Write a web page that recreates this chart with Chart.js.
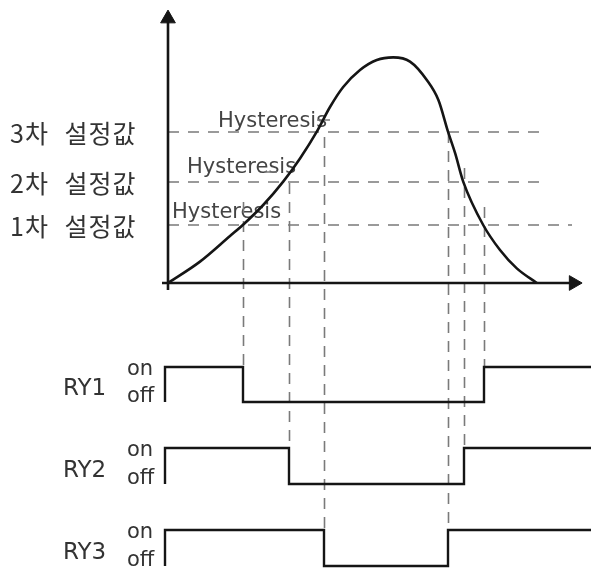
<!DOCTYPE html>
<html>
<head>
<meta charset="utf-8">
<script src="https://cdn.jsdelivr.net/npm/chart.js@4.4.1/dist/chart.umd.min.js"></script>
<style>
  html, body { margin: 0; padding: 0; background: #fff; }
  #wrap { width: 591px; height: 573px; }
</style>
</head>
<body>
<div id="wrap"><canvas id="myChart" width="591" height="573"></canvas></div>
<script>
// 측정값 곡선 (시간, 값)
const curveT = [0, 8, 15.5, 18.7, 23.8, 28.8, 33, 37.2, 40.5, 43.8, 48, 52.2, 56.3, 60.5, 64.7, 67.6, 70, 71.8, 73.8, 78.8, 83, 87.2, 92.2];
const curveV = [0, 10.7, 23.5, 29, 39, 50.7, 62.3, 75.7, 88, 98, 106.5, 111.5, 112.8, 110.7, 101.5, 91.5, 75.7, 64.8, 50.7, 29, 16.5, 7.3, 0];

// 설정값
const setpointLabels = ['1차 설정값', '2차 설정값', '3차 설정값'];
const setpoints = [29, 50.5, 75.5];
const setpointEnds = [101, 94.3, 94.3];
const hystLabels = ['Hysteresis', 'Hysteresis', 'Hysteresis'];

// 릴레이 (off: 상승시, on: 하강시)
const relayNames = ['RY1', 'RY2', 'RY3'];
const relayOffT = [18.75, 30.25, 39];
const relayOnT = [79, 74, 70];
const guideTopRise = [40.5, 50, 73];
const guideTopFall = [38, 57.5, 75.5];
const relayStart = -0.75;
const relayEnd = 106;

// 화면 배치 (px)
const W = 591, H = 573;
const originX = 168, originY = 283, pxPerT = 4, pxPerV = 2;
const relayOnPx = [367, 448, 530];
const relayOffPx = [402, 484, 566];

const black = '#151515';
const dashGray = '#7a7a7a';

function relayScale(i) {
    const unit = relayOffPx[i] - relayOnPx[i];
    return {
        type: 'linear', axis: 'y', display: false,
        min: -(H - relayOffPx[i]) / unit,
        max: 1 + relayOnPx[i] / unit
    };
}

const datasets = [];

// 곡선
datasets.push({
    data: curveT.map((t, i) => ({x: t, y: curveV[i]})),
    borderColor: black, borderWidth: 2.6,
    pointRadius: 0, cubicInterpolationMode: 'monotone',
    yAxisID: 'y', clip: false
});

// 릴레이 파형
relayNames.forEach((name, i) => {
    datasets.push({
        data: [
            {x: relayStart, y: 0}, {x: relayStart, y: 1},
            {x: relayOffT[i], y: 0}, {x: relayOnT[i], y: 1},
            {x: relayEnd, y: 1}
        ],
        stepped: 'before',
        borderColor: black, borderWidth: 2.4,
        pointRadius: 0, yAxisID: 'yRelay' + i, clip: false
    });
});

// 축 (화살표)
datasets.push({
    data: [{x: 0, y: -3.5}, {x: 0, y: 132.2}],
    borderColor: black, borderWidth: 2.6,
    pointStyle: 'triangle', pointRadius: [0, 8.5], pointRotation: [0, 0],
    pointBackgroundColor: black, pointBorderColor: black, pointBorderWidth: 1,
    yAxisID: 'y', clip: false
});
datasets.push({
    data: [{x: -1.5, y: 0}, {x: 101.4, y: 0}],
    borderColor: black, borderWidth: 2.6,
    pointStyle: 'triangle', pointRadius: [0, 8.5], pointRotation: [0, 90],
    pointBackgroundColor: black, pointBorderColor: black, pointBorderWidth: 1,
    yAxisID: 'y', clip: false
});

// 설정값 점선
setpoints.forEach((v, i) => {
    datasets.push({
        data: [{x: 0, y: v}, {x: setpointEnds[i], y: v}],
        borderColor: dashGray, borderWidth: 1.6, borderDash: [11, 9],
        pointRadius: 0, yAxisID: 'y', clip: false
    });
});

// 히스테리시스 표시
datasets.push({
    data: [{x: 24.25, y: 55.5}, {x: 27.25, y: 55.5}, {x: null, y: null},
           {x: 37.25, y: 81.5}, {x: 40.5, y: 81.5}],
    borderColor: dashGray, borderWidth: 1.6, spanGaps: false,
    pointRadius: 0, yAxisID: 'y', clip: false
});

// 수직 점선 + 글자
const guidesAndText = {
    id: 'guidesAndText',
    beforeDatasetsDraw(chart) {
        const ctx = chart.ctx;
        const x = chart.scales.x, y = chart.scales.y;
        ctx.save();

        // 글자
        ctx.textBaseline = 'middle';
        ctx.fillStyle = '#333';
        ctx.font = '25px "Noto Sans CJK KR"';
        if ('letterSpacing' in ctx) ctx.letterSpacing = '1px';
        if ('wordSpacing' in ctx) ctx.wordSpacing = '9px';
        setpointLabels.forEach((s, i) => {
            ctx.fillText(s, 10, y.getPixelForValue(setpoints[i]) + 1);
        });
        if ('letterSpacing' in ctx) ctx.letterSpacing = '0px';
        if ('wordSpacing' in ctx) ctx.wordSpacing = '0px';

        ctx.fillStyle = '#444';
        ctx.font = '21px "DejaVu Sans"';
        const hystX = [172, 187, 218];
        const hystDy = [-12, -14, -10];
        hystLabels.forEach((s, i) => {
            ctx.fillText(s, hystX[i], y.getPixelForValue(setpoints[i]) + hystDy[i]);
        });

        ctx.fillStyle = '#333';
        relayNames.forEach((name, i) => {
            const r = chart.scales['yRelay' + i];
            const pOn = r.getPixelForValue(1), pOff = r.getPixelForValue(0);
            ctx.textBaseline = 'middle';
            ctx.font = '23px "DejaVu Sans"';
            ctx.fillText(name, 63, (pOn + pOff) / 2 + 5);
            ctx.textBaseline = 'alphabetic';
            ctx.font = '21px "DejaVu Sans"';
            ctx.fillText('on', 127, pOn + 8);
            ctx.fillText('off', 127, pOff);
        });

        // 수직 점선
        ctx.strokeStyle = dashGray;
        ctx.lineWidth = 1.6;
        ctx.setLineDash([11, 8]);
        relayNames.forEach((name, i) => {
            const r = chart.scales['yRelay' + i];
            const bottom = r.getPixelForValue(1);
            [[relayOffT[i], guideTopRise[i]], [relayOnT[i], guideTopFall[i]]].forEach(([t, v]) => {
                const px = Math.round(x.getPixelForValue(t)) + 0.5;
                ctx.beginPath();
                ctx.moveTo(px, y.getPixelForValue(v));
                ctx.lineTo(px, bottom);
                ctx.stroke();
            });
        });
        ctx.restore();
    }
};

const scales = {
    x: {type: 'linear', display: false,
        min: -originX / pxPerT, max: (W - originX) / pxPerT},
    y: {type: 'linear', display: false,
        min: -(H - originY) / pxPerV, max: originY / pxPerV}
};
relayNames.forEach((n, i) => { scales['yRelay' + i] = relayScale(i); });

new Chart(document.getElementById('myChart'), {
    type: 'line',
    data: {datasets},
    options: {
        responsive: false,
        animation: false,
        devicePixelRatio: 1,
        layout: {padding: 0, autoPadding: false},
        plugins: {legend: {display: false}, tooltip: {enabled: false}},
        scales
    },
    plugins: [guidesAndText]
});
</script>
</body>
</html>
